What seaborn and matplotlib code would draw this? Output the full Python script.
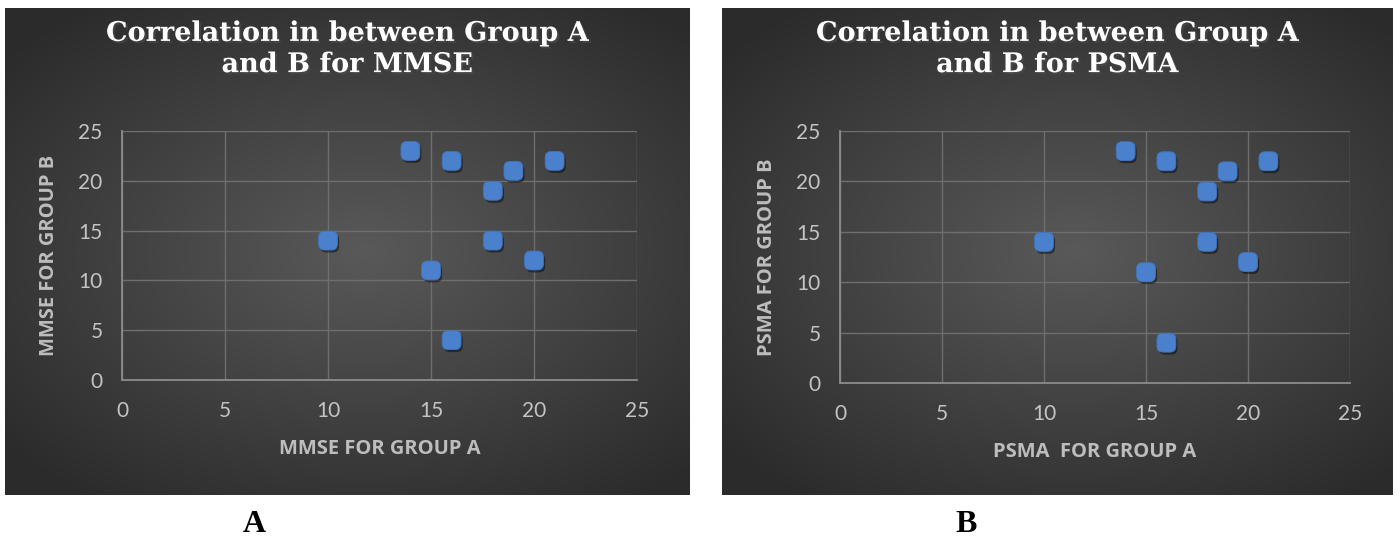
import numpy as np
import matplotlib
matplotlib.use("Agg")
import matplotlib.pyplot as plt
import matplotlib.patheffects as pe
from matplotlib.patches import FancyBboxPatch
import seaborn as sns

# data (both panels show the same points)
group_a = [14, 16, 21, 19, 18, 10, 18, 15, 20, 16]
group_b = [23, 22, 22, 21, 19, 14, 14, 11, 12, 4]
ticks = [0, 5, 10, 15, 20, 25]
titles = ["Correlation in between Group A\nand B for MMSE",
          "Correlation in between Group A\nand B for PSMA"]
xlabels = ["MMSE FOR GROUP A", "PSMA  FOR GROUP A"]
ylabels = ["MMSE FOR GROUP B", "PSMA FOR GROUP B"]
panel_tags = ["A", "B"]

sns.set_style("white")

W, H = 1400, 539
fig = plt.figure(figsize=(W / 100, H / 100), dpi=100)
fig.patch.set_facecolor("white")

def px_box(x0, y0, x1, y1):
    return [x0 / W, 1 - y1 / H, (x1 - x0) / W, (y1 - y0) / H]

boxes = [px_box(5, 8, 690, 495), px_box(722, 8, 1393, 495)]
plots = [px_box(122, 131, 637, 380), px_box(840, 131, 1350, 383)]
tag_x = [254, 966]

# radial gradient for the dark chart background
yy, xx = np.mgrid[-1:1:300j, -1:1:400j]
r = np.sqrt(((xx - 0.05) / 1.1) ** 2 + (yy / 1.0) ** 2)
r = np.clip(r / 1.25, 0, 1)
grad = 0.35 - 0.18 * r
bg = np.dstack([grad, grad, grad])

# rounded square marker
rsq = FancyBboxPatch((-0.5, -0.5), 1, 1,
                     boxstyle="round,pad=0,rounding_size=0.32").get_path()

for i in range(2):
    bax = fig.add_axes(boxes[i], zorder=0)
    bax.imshow(bg, aspect="auto", extent=[0, 1, 0, 1], interpolation="bilinear")
    bax.set_axis_off()

    ax = fig.add_axes(plots[i], zorder=1)
    ax.set_facecolor("none")
    sns.scatterplot(x=group_a, y=group_b, ax=ax, marker=rsq, s=185,
                    color="#4a80cc", edgecolor="#3f74bf", linewidth=0.6,
                    zorder=3, clip_on=False,
                    path_effects=[pe.SimplePatchShadow(offset=(1.2, -1.8), alpha=0.45,
                                                       shadow_rgbFace="black"),
                                  pe.Normal()])
    ax.set_xlim(0, 25)
    ax.set_ylim(0, 25)
    ax.set_xticks(ticks)
    ax.set_yticks(ticks)
    ax.grid(True, color="#6e6e6e", linewidth=1.0)
    ax.set_axisbelow(True)
    for s in ["top", "right"]:
        ax.spines[s].set_visible(False)
    for s in ["left", "bottom"]:
        ax.spines[s].set_color("#8c8c8c")
        ax.spines[s].set_linewidth(1.3)
    ax.tick_params(axis="both", length=0, labelcolor="#c4c4c4", labelsize=15)
    ax.tick_params(axis="x", pad=15)
    ax.tick_params(axis="y", pad=14)
    for lab in ax.get_xticklabels() + ax.get_yticklabels():
        lab.set_fontfamily("Lato")
    ax.set_xlabel(xlabels[i], color="#bdbdbd", fontsize=14.5, fontweight="bold",
                  family="Open Sans", labelpad=13)
    ax.set_ylabel(ylabels[i], color="#bdbdbd", fontsize=14.5, fontweight="bold",
                  family="Open Sans", labelpad=14)

    b = boxes[i]
    fig.text(b[0] + b[2] / 2, 1 - 49 / H, titles[i], ha="center", va="center",
             color="white", fontsize=19.5, fontweight="bold", family="DejaVu Serif",
             linespacing=1.2,
             path_effects=[pe.withSimplePatchShadow(offset=(1.5, -1.5), alpha=0.6)])
    fig.text(tag_x[i] / W, 1 - 524 / H, panel_tags[i], ha="center", va="center",
             color="black", fontsize=23, fontweight="bold", family="Liberation Serif")

fig.savefig("out.png", dpi=100, facecolor="white")
